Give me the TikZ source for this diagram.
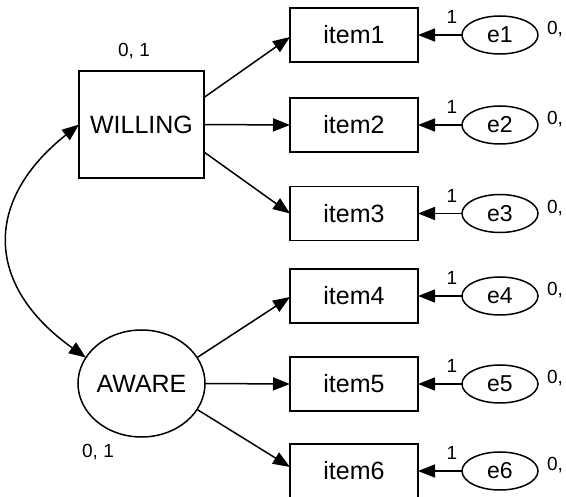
\documentclass[tikz,border=0pt]{standalone}
\usepackage{fontspec}
\setmainfont{Liberation Sans}
\usetikzlibrary{arrows.meta,shapes.geometric,calc}
\begin{document}
\begin{tikzpicture}[x=1pt,y=-1pt, line width=1.5pt,
  every node/.style={inner sep=0pt, outer sep=0pt},
  itembox/.style={draw, rectangle, minimum width=128pt, minimum height=54pt, font=\fontsize{25}{25}\selectfont},
  latbox/.style={draw, rectangle, minimum width=125pt, minimum height=107pt, font=\fontsize{25}{25}\selectfont},
  latell/.style={draw, ellipse, minimum width=125pt, minimum height=107pt, font=\fontsize{25}{25}\selectfont},
  errell/.style={draw, ellipse, minimum width=76pt, minimum height=38pt, font=\fontsize{23}{23}\selectfont},
  lbl/.style={font=\fontsize{19}{19}\selectfont},
  tip/.style={-{Triangle[length=17pt,width=13pt]}},
  dtip/.style={{Triangle[length=17pt,width=13pt]}-{Triangle[length=17pt,width=13pt]}},
]
\useasboundingbox (0,0) rectangle (566,497);

% latent variables
\node[latbox] (W) at (141.5,124.5) {WILLING};
\node[latell] (A) at (141.5,383.5) {AWARE};
\node[lbl, anchor=base] (wv) at (134,57) {0, 1};
\node[lbl, anchor=base] (av) at (98,458) {0, 1};

% items, errors, labels
\foreach \i/\y in {1/35,2/125,3/213.5,4/296,5/384,6/471}{
  \node[itembox] (i\i) at (354,\y) {item\i};
  \node[errell] (e\i) at (500,\y) {e\i};
  \node[lbl] (one\i) at (452,\y-18) {1};
  \node[lbl, anchor=base west] (ev\i) at (547,\y) {0,};
  \draw[tip] (e\i) -- (i\i);
}

% loadings
\draw[tip] ($(W.east)+(0,-27)$) -- ($(i1.west)+(0,2)$);
\draw[tip] (W.east) -- (i2.west);
\draw[tip] ($(W.east)+(0,27.5)$) -- (i3.west);
\draw[tip] (A.25) -- ($(i4.west)+(0,1)$);
\draw[tip] (A.east) -- (i5.west);
\draw[tip] (A.-25) -- ($(i6.west)+(0,-4)$);

% covariance
\draw[dtip] (W.west) .. controls (-16,200) and (-16,285) .. (A.155);
\end{tikzpicture}
\end{document}
